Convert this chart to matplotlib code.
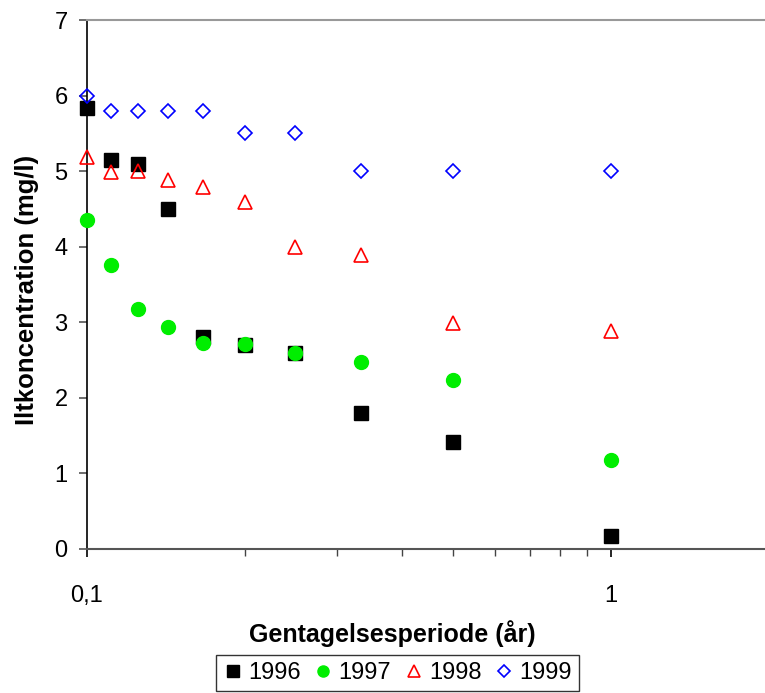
import matplotlib
matplotlib.use("Agg")
import matplotlib.pyplot as plt
from matplotlib.ticker import FixedLocator, NullFormatter

plt.rcParams['font.family'] = ['Liberation Sans', 'DejaVu Sans']

# gentagelsesperiode i år
periode = [0.1, 1 / 9, 1 / 8, 1 / 7, 1 / 6, 0.2, 0.25, 1 / 3, 0.5, 1.0]

ilt_1996 = [5.83, 5.15, 5.10, 4.50, 2.80, 2.70, 2.60, 1.80, 1.42, 0.17]
ilt_1997 = [4.35, 3.76, 3.18, 2.94, 2.72, 2.71, 2.60, 2.47, 2.24, 1.18]
ilt_1998 = [5.19, 4.99, 5.00, 4.88, 4.79, 4.59, 4.00, 3.89, 2.99, 2.89]
ilt_1999 = [6.00, 5.80, 5.80, 5.80, 5.80, 5.50, 5.50, 5.00, 5.00, 5.00]

aar = ['1996', '1997', '1998', '1999']

fig = plt.figure(figsize=(7.65, 6.93), dpi=100)
ax = fig.add_axes([0.1137, 0.2078, 0.8863, 0.7633])

ax.plot(periode, ilt_1996, linestyle='none', marker='s', markersize=10,
        color='black', label=aar[0], clip_on=False, zorder=3)
ax.plot(periode, ilt_1997, linestyle='none', marker='o', markersize=10,
        color='#00ee00', label=aar[1], clip_on=False, zorder=3)
ax.plot(periode, ilt_1998, linestyle='none', marker='^', markersize=10,
        markerfacecolor='none', markeredgecolor='red', markeredgewidth=1.2,
        label=aar[2], clip_on=False, zorder=3)
ax.plot(periode, ilt_1999, linestyle='none', marker='D', markersize=7.5,
        markerfacecolor='none', markeredgecolor='#0000ff', markeredgewidth=1.2,
        label=aar[3], clip_on=False, zorder=3)

ax.set_xscale('log')
ax.set_xlim(0.1, 1.97)
ax.set_ylim(0, 7)

ax.set_xticks([0.1, 1])
ax.set_xticklabels(['0,1', '1'])
ax.xaxis.set_minor_locator(FixedLocator([0.2, 0.3, 0.4, 0.5, 0.6, 0.7, 0.8, 0.9]))
ax.xaxis.set_minor_formatter(NullFormatter())
ax.set_yticks(range(0, 8))

ax.tick_params(axis='both', which='major', labelsize=17, direction='out',
               length=6, width=1.2, color='#555555', pad=8)
ax.tick_params(axis='x', which='major', color='black', pad=20)
ax.tick_params(axis='x', which='minor', direction='out', length=5, width=1,
               color='#444444')

ax.spines['right'].set_visible(False)
ax.spines['top'].set_color('#999999')
ax.spines['top'].set_linewidth(1.5)
ax.spines['bottom'].set_color('#555555')
ax.spines['bottom'].set_linewidth(1.5)
ax.spines['left'].set_color('black')
ax.spines['left'].set_linewidth(1.2)

ax.set_xlabel('Gentagelsesperiode (år)', fontsize=18, fontweight='bold')
ax.set_ylabel('Iltkoncentration (mg/l)', fontsize=18.5, fontweight='bold')
ax.xaxis.set_label_coords(0.45, -0.134)
ax.yaxis.set_label_coords(-0.071, 0.49)

leg = ax.legend(loc='upper center', bbox_to_anchor=(0.458, -0.2), ncol=4,
                fontsize=17, frameon=True, fancybox=False, edgecolor='black',
                handletextpad=0.25, columnspacing=0.55, borderpad=0.3,
                borderaxespad=0, handlelength=0.8, markerscale=0.8)
leg.get_frame().set_linewidth(1.0)

fig.savefig('out.png', dpi=100)
